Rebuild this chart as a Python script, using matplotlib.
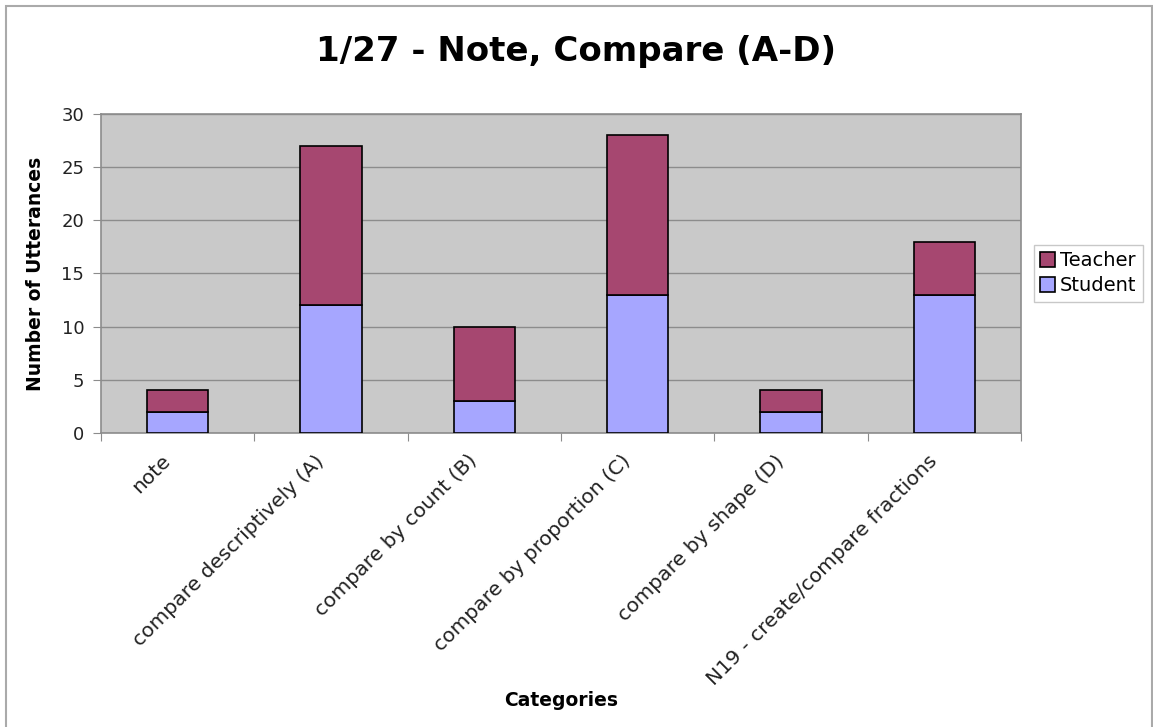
import matplotlib.pyplot as plt
import matplotlib.transforms as mtransforms
from matplotlib.patches import Rectangle
import numpy as np

categories = ["note", "compare descriptively (A)", "compare by count (B)",
              "compare by proportion (C)", "compare by shape (D)",
              "N19 - create/compare fractions"]
student = [2, 12, 3, 13, 2, 13]
teacher = [2, 15, 7, 15, 2, 5]

plt.rcParams['font.family'] = ['DejaVu Sans']

fig = plt.figure(figsize=(11.53, 7.27), dpi=100)
ax = fig.add_axes([0.0876, 0.4044, 0.7979, 0.4388])

x = np.arange(len(categories))
w = 0.4
ax.bar(x, student, w, color='#A6A6FF', edgecolor='black', linewidth=1.2,
       label='Student', zorder=3)
ax.bar(x, teacher, w, bottom=student, color='#A64770', edgecolor='black',
       linewidth=1.2, label='Teacher', zorder=3)

ax.set_facecolor('#C9C9C9')
ax.set_xlim(-0.5, len(categories) - 0.5)
ax.set_ylim(0, 30)
ax.set_yticks(range(0, 31, 5))
ax.yaxis.grid(True, color='#8C8C8C', linewidth=1.0, zorder=0)
ax.tick_params(axis='y', labelsize=13, length=6, color='#8C8C8C', pad=6,
               labelcolor='#222222')

# category ticks sit between the bars, labels under each bar
ax.set_xticks(np.append(x - 0.5, len(categories) - 0.5))
ax.set_xticks(x, minor=True)
ax.tick_params(axis='x', which='major', length=6, color='#8C8C8C', labelbottom=False)
ax.tick_params(axis='x', which='minor', length=0, labelsize=14.6, pad=18,
               labelcolor='#222222')
ax.set_xticklabels(categories, minor=True, rotation=45, ha='right',
                   va='center', rotation_mode='anchor')
shift = mtransforms.ScaledTranslation(-10 / 100, 0, fig.dpi_scale_trans)
for lbl in ax.get_xticklabels(minor=True):
    lbl.set_transform(lbl.get_transform() + shift)

for side in ['top', 'right', 'left', 'bottom']:
    ax.spines[side].set_color('#8C8C8C')
    ax.spines[side].set_linewidth(1.2)

ax.set_ylabel('Number of Utterances', fontsize=13.5, fontweight='bold', labelpad=12)
ax.set_xlabel('Categories', fontsize=13.5, fontweight='bold')
ax.xaxis.set_label_coords(0.5, -0.81)
fig.suptitle('1/27 - Note, Compare (A-D)', fontsize=24.5, fontweight='bold',
             y=0.952)

handles, labels = ax.get_legend_handles_labels()
leg = fig.legend(handles[::-1], labels[::-1], loc='upper left',
                 bbox_to_anchor=(0.893, 0.669), fontsize=14, frameon=True,
                 fancybox=False, edgecolor='#BBBBBB', handlelength=0.75,
                 handleheight=0.75, handletextpad=0.25, borderpad=0.35,
                 labelspacing=0.3, borderaxespad=0.2)

# outer chart frame
fig.patches.append(Rectangle((0.0052, -0.01), 0.994, 1.0017,
                             transform=fig.transFigure, fill=False,
                             edgecolor='#AAAAAA', linewidth=1.5))

fig.savefig('out.png', dpi=100)
